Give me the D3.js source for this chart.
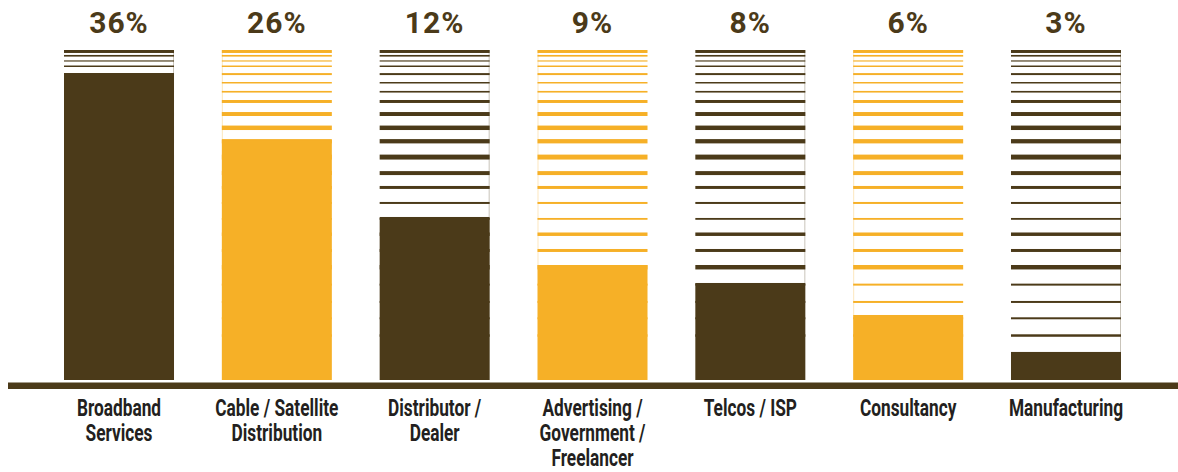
<!DOCTYPE html>
<html>
<head>
<meta charset="utf-8">
<script src="https://d3js.org/d3.v7.min.js"></script>
<style>
  body { margin: 0; background: #fff; }
  svg { display: block; }
</style>
</head>
<body>
<div id="chart"></div>
<script>
// data
const categories = ["Broadband Services", "Cable / Satellite Distribution", "Distributor / Dealer",
  "Advertising / Government / Freelancer", "Telcos / ISP", "Consultancy", "Manufacturing"];
const labelLines = [["Broadband", "Services"], ["Cable / Satellite", "Distribution"], ["Distributor /", "Dealer"],
  ["Advertising /", "Government /", "Freelancer"], ["Telcos / ISP"], ["Consultancy"], ["Manufacturing"]];
const shares = [36, 26, 12, 9, 8, 6, 3];
// height of the solid part, on a 0-100 scale of the full column
const fillLevels = [93.0, 72.7, 49.4, 34.8, 29.4, 19.7, 8.5];
// decorative stripe bands [top, bottom] on the same 0-100 scale
const stripeBands = [
  [100, 99.1], [98.5, 98.0], [96.85, 96.5], [95.3, 94.85], [93.0, 92.4],
  [90.3, 89.85], [87.6, 87.1], [84.85, 83.95], [81.2, 80.0], [77.1, 75.75],
  [73.0, 71.7], [68.3, 66.8], [63.3, 62.1], [58.8, 57.9], [53.95, 53.35],
  [49.1, 48.55], [44.7, 43.65], [39.7, 38.8], [34.85, 33.5], [29.2, 28.6],
  [23.95, 23.35], [19.0, 18.4], [13.85, 13.1]
];

const dark = "#4b3a19", orange = "#f6b027";
const width = 1178, height = 472;

const svg = d3.select("#chart").append("svg")
  .attr("width", width)
  .attr("height", height);

const x = d3.scaleBand()
  .domain(categories)
  .range([64, 1121])
  .paddingInner(0.303)
  .paddingOuter(0);

const y = d3.scaleLinear()
  .domain([0, 100])
  .range([380, 50]);

const colorOf = i => i % 2 === 0 ? dark : orange;

const bars = svg.append("g")
  .selectAll("g")
  .data(categories)
  .join("g")
    .attr("transform", d => `translate(${x(d)},0)`);

// stripes
bars.each(function(d, i) {
  d3.select(this).selectAll("rect.stripe")
    .data(stripeBands)
    .join("rect")
      .attr("class", "stripe")
      .attr("x", 0)
      .attr("width", x.bandwidth())
      .attr("y", s => y(s[0]))
      .attr("height", s => y(s[1]) - y(s[0]))
      .attr("fill", colorOf(i));
});

// faint side edges of the striped part
bars.append("line")
  .attr("x1", (d, i) => i % 2 === 0 ? x.bandwidth() - 0.5 : 0.5)
  .attr("x2", (d, i) => i % 2 === 0 ? x.bandwidth() - 0.5 : 0.5)
  .attr("y1", y(100))
  .attr("y2", (d, i) => y(fillLevels[i]))
  .attr("stroke", (d, i) => colorOf(i))
  .attr("stroke-opacity", 0.3);

// solid part
bars.append("rect")
  .attr("x", 0)
  .attr("width", x.bandwidth())
  .attr("y", (d, i) => y(fillLevels[i]))
  .attr("height", (d, i) => y(0) - y(fillLevels[i]))
  .attr("fill", (d, i) => colorOf(i));

// percentage on top
bars.append("text")
  .attr("x", x.bandwidth() / 2)
  .attr("y", 33)
  .attr("text-anchor", "middle")
  .attr("font-family", "Roboto, sans-serif")
  .attr("font-weight", "bold")
  .attr("font-size", 30)
  .attr("letter-spacing", 1)
  .attr("fill", dark)
  .text((d, i) => shares[i] + "%");

// baseline
svg.append("rect")
  .attr("x", 8)
  .attr("y", 382.5)
  .attr("width", width - 8)
  .attr("height", 6.5)
  .attr("fill", dark);

// category labels, condensed
bars.append("g")
  .attr("transform", `translate(${x.bandwidth() / 2},0) scale(0.72,1)`)
  .each(function(d, i) {
    d3.select(this).selectAll("text")
      .data(labelLines[i])
      .join("text")
        .attr("x", 0)
        .attr("y", (t, k) => 416.5 + k * 25)
        .attr("text-anchor", "middle")
        .attr("font-family", "Roboto, sans-serif")
        .attr("font-weight", "bold")
        .attr("font-size", 24)
        .attr("fill", "#231f20")
        .text(t => t);
  });
</script>
</body>
</html>
